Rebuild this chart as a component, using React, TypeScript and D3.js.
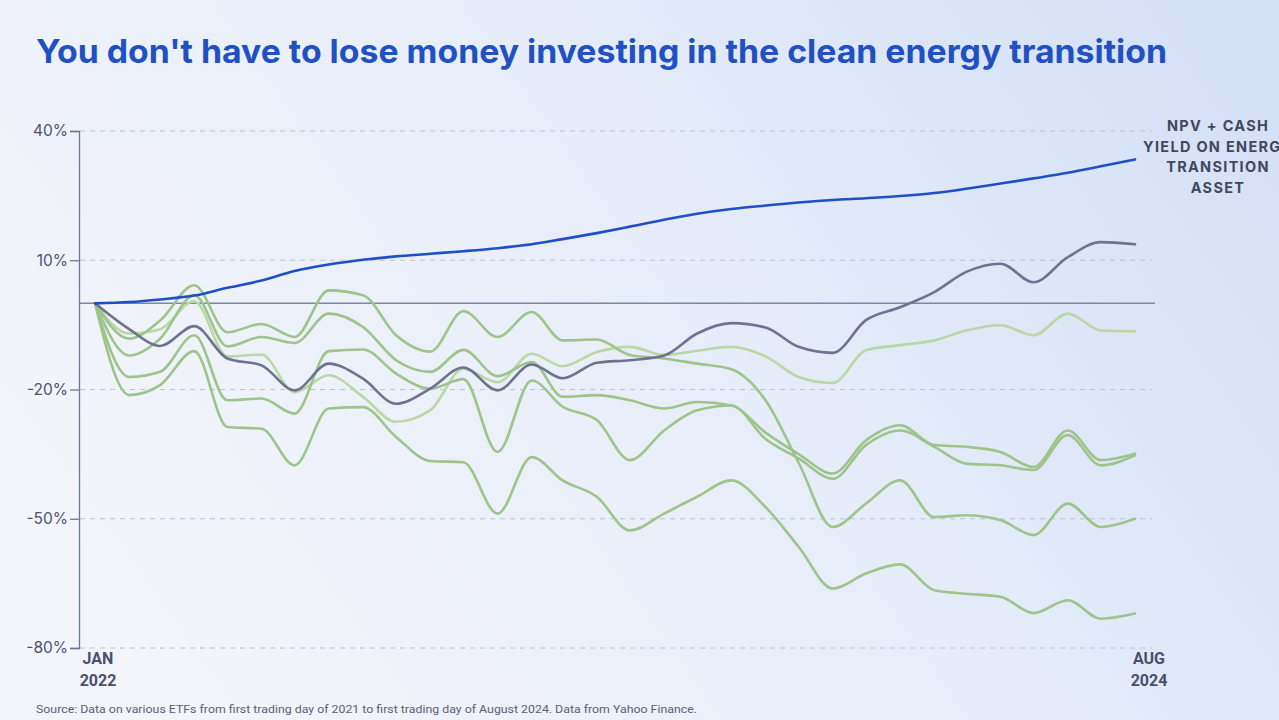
import { useEffect, useRef } from 'react';
import * as d3 from 'd3';

// Monthly values, Jan 2022 .. Aug 2024 (32 points), % change
const npvAsset = [0, 0.3, 0.9, 1.8, 3.6, 5.3, 7.5, 9.0, 10.1, 10.9, 11.5, 12.1, 12.8, 13.7, 14.9, 16.3, 17.8, 19.4, 20.8, 21.9, 22.7, 23.4, 24.0, 24.4, 24.9, 25.6, 26.6, 27.8, 29.0, 30.3, 31.8, 33.4];
const grayEtf = [0, -6.0, -9.9, -5.3, -12.8, -14.4, -20.2, -14.0, -17.5, -23.3, -19.8, -14.9, -20.2, -14.2, -17.4, -13.8, -13.2, -12.1, -7.0, -4.6, -5.6, -10.1, -11.5, -3.9, -0.9, 2.6, 7.3, 9.2, 4.9, 10.7, 14.2, 13.7];
const paleEtf = [0, -7.0, -6.0, 0.5, -12.3, -11.9, -20.6, -16.7, -21.7, -27.5, -24.8, -15.2, -18.3, -11.7, -14.6, -11.3, -10.1, -12.0, -11.0, -10.1, -12.3, -17.1, -18.5, -10.9, -9.7, -8.6, -6.3, -5.1, -7.4, -2.4, -6.3, -6.5];
const etfA = [0, -8.2, -4.0, 4.2, -6.7, -4.8, -7.8, 3.0, 1.9, -7.4, -11.2, -1.8, -7.8, -2.0, -8.6, -8.4, -12.0, -12.8, -14.0, -15.3, -22.5, -37.0, -51.9, -46.5, -41.1, -49.6, -49.2, -50.3, -53.8, -46.5, -51.9, -50.0];
const etfB = [0, -12.1, -8.2, 1.9, -10.0, -7.8, -9.2, -2.4, -5.5, -13.2, -15.9, -10.8, -16.9, -13.6, -21.7, -21.3, -22.5, -24.4, -22.9, -23.7, -30.0, -35.0, -39.5, -31.8, -28.3, -32.9, -33.3, -34.5, -38.0, -29.5, -36.4, -34.9];
const etfC = [0, -17.1, -15.9, -7.4, -22.5, -22.1, -25.6, -11.1, -10.7, -16.3, -19.8, -17.6, -34.5, -17.9, -24.0, -27.1, -36.4, -29.5, -24.8, -23.7, -31.5, -36.0, -40.7, -32.9, -29.5, -33.3, -37.2, -37.6, -38.7, -30.6, -37.6, -35.3];
const etfD = [0, -21.3, -19.0, -11.1, -28.7, -29.1, -37.6, -24.4, -24.1, -31.0, -36.6, -36.9, -48.8, -35.7, -41.1, -44.9, -52.7, -48.8, -44.9, -41.1, -47.3, -56.5, -66.2, -62.7, -60.6, -66.6, -67.4, -68.1, -71.9, -68.9, -73.2, -72.0];

const yTicks = [40, 10, -20, -50, -80];
const labelLines = ['NPV + CASH', 'YIELD ON ENERGY', 'TRANSITION', 'ASSET'];
const title = "You don't have to lose money investing in the clean energy transition";
const source = 'Source: Data on various ETFs from first trading day of 2021 to first trading day of August 2024.  Data from Yahoo Finance.';

const W = 1279;
const H = 720;

export default function App() {
  const svgRef = useRef<SVGSVGElement>(null);

  useEffect(() => {
    if (!svgRef.current) return;
    const svg = d3.select(svgRef.current);
    svg.selectAll('*').remove();

    const months = d3.timeMonth.range(new Date(2022, 0, 1), new Date(2024, 7, 2));

    // background
    const defs = svg.append('defs');
    const bg = defs.append('linearGradient').attr('id', 'bg')
      .attr('x1', '0%').attr('y1', '60%').attr('x2', '100%').attr('y2', '20%');
    bg.append('stop').attr('offset', '0%').attr('stop-color', '#f3f5fa');
    bg.append('stop').attr('offset', '45%').attr('stop-color', '#e9eef9');
    bg.append('stop').attr('offset', '100%').attr('stop-color', '#d5e1f7');
    svg.append('rect').attr('width', W).attr('height', H).attr('fill', 'url(#bg)');

    const x = d3.scaleTime()
      .domain([months[0], months[months.length - 1]])
      .range([95, 1135]);
    const y = d3.scaleLinear().domain([-80, 40]).range([648, 131]);

    // title
    svg.append('text')
      .attr('x', 36).attr('y', 63)
      .attr('font-family', 'Inter, "Noto Sans", sans-serif')
      .attr('font-size', 33).attr('font-weight', 700)
      .attr('fill', '#2150c2')
      .attr('textLength', 1131).attr('lengthAdjust', 'spacingAndGlyphs')
      .text(title);

    // gridlines
    svg.append('g').selectAll('line')
      .data(yTicks)
      .join('line')
      .attr('x1', 80).attr('x2', 1152)
      .attr('y1', d => y(d)).attr('y2', d => y(d))
      .attr('stroke', '#b9c2d6').attr('stroke-width', 1)
      .attr('stroke-dasharray', '5,5');

    // y axis
    const yAxis = svg.append('g')
      .attr('transform', 'translate(79,0)')
      .call(d3.axisLeft(y).tickValues(yTicks).tickSize(9).tickFormat(d => `${d}%`));
    yAxis.select('.domain').attr('stroke', '#6f7792').attr('stroke-width', 1.3);
    yAxis.selectAll('.tick line').attr('stroke', '#6f7792').attr('stroke-width', 1.3);
    yAxis.selectAll('.tick text')
      .attr('font-family', 'Inter, "Noto Sans", sans-serif')
      .attr('font-size', 15.5).attr('fill', '#4c5270').attr('x', -11);

    // zero baseline
    svg.append('line')
      .attr('x1', 79).attr('x2', 1155)
      .attr('y1', y(0)).attr('y2', y(0))
      .attr('stroke', '#7d87a3').attr('stroke-width', 1.5);

    const line = d3.line<number>()
      .x((_, i) => x(months[i]))
      .y(d => y(d))
      .curve(d3.curveMonotoneX);

    const series = [
      { values: paleEtf, color: '#b9d8a6' },
      { values: etfA, color: '#9dc48b' },
      { values: etfB, color: '#9dc48b' },
      { values: etfC, color: '#9dc48b' },
      { values: etfD, color: '#9dc48b' },
      { values: grayEtf, color: '#6e7290' },
      { values: npvAsset, color: '#1f4fc4' },
    ];

    svg.append('g').selectAll('path')
      .data(series)
      .join('path')
      .attr('d', d => line(d.values))
      .attr('fill', 'none')
      .attr('stroke', d => d.color)
      .attr('stroke-width', 2.6)
      .attr('stroke-linejoin', 'round')
      .attr('stroke-linecap', 'round');

    // x labels
    const xLabels = [
      { date: months[0], dx: 3, lines: ['JAN', '2022'] },
      { date: months[months.length - 1], dx: 14, lines: ['AUG', '2024'] },
    ];
    xLabels.forEach(l => {
      const t = svg.append('text')
        .attr('text-anchor', 'middle')
        .attr('font-family', '"Roboto", "Noto Sans", sans-serif')
        .attr('font-size', 16).attr('font-weight', 700)
        .attr('fill', '#4a4f6b');
      l.lines.forEach((s, i) => {
        t.append('tspan')
          .attr('x', x(l.date) + l.dx)
          .attr('y', 664 + i * 22)
          .text(s);
      });
    });

    // series label (the reference runs past the right edge)
    const lbl = svg.append('text')
      .attr('text-anchor', 'middle')
      .attr('font-family', 'Inter, "Noto Sans", sans-serif')
      .attr('font-size', 14.5).attr('font-weight', 700)
      .attr('letter-spacing', 1.3)
      .attr('fill', '#41475f');
    labelLines.forEach((s, i) => {
      lbl.append('tspan')
        .attr('x', 1218)
        .attr('y', 131 + i * 20.5)
        .text(s);
    });

    // source
    svg.append('text')
      .attr('x', 36).attr('y', 713)
      .attr('font-family', '"Roboto", "Noto Sans", sans-serif')
      .attr('font-size', 11.5).attr('fill', '#5a5f74')
      .attr('textLength', 661).attr('lengthAdjust', 'spacingAndGlyphs')
      .text(source);
  }, []);

  return (
    <div style={{ position: 'fixed', left: 0, top: 0, width: W, height: H, overflow: 'hidden' }}>
      <svg ref={svgRef} width={W} height={H} style={{ display: 'block' }} />
    </div>
  );
}
